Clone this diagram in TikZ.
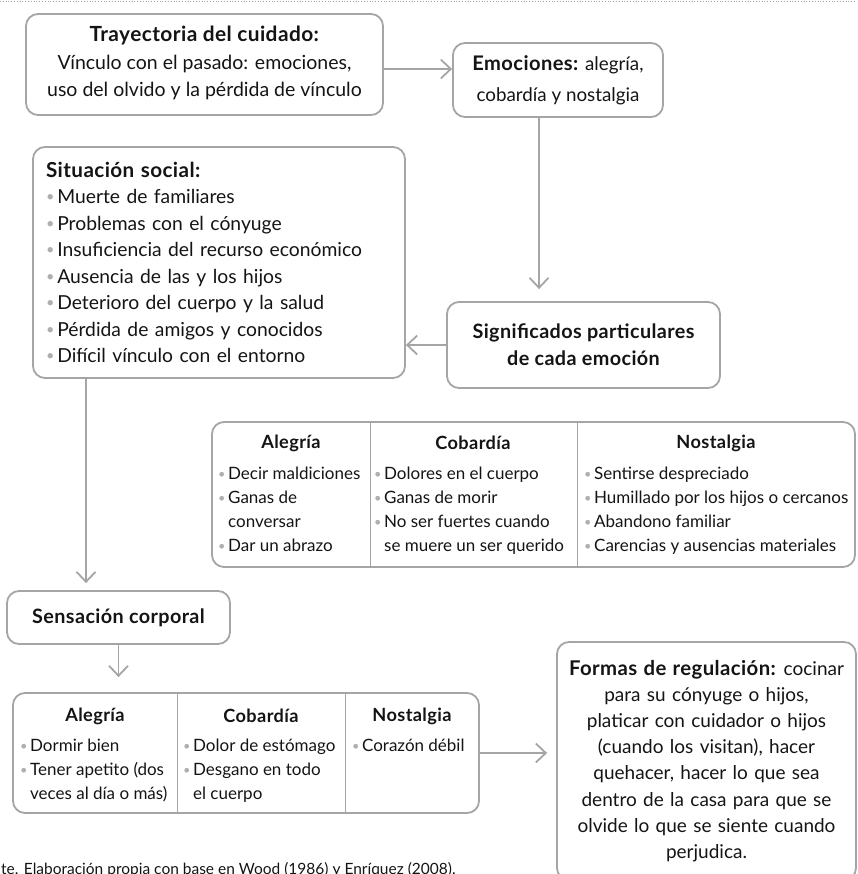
\documentclass[tikz,border=0pt]{standalone}
\usepackage{fontspec}
\setmainfont{Lato}[BoldFeatures={Scale=1.07,LetterSpace=2}]
\usetikzlibrary{arrows.meta}

\definecolor{linegray}{RGB}{165,165,165}
\definecolor{bulgray}{RGB}{175,175,175}
\definecolor{ink}{RGB}{20,20,20}

\newcommand\bul{\textcolor{bulgray}{\raisebox{.1em}{\scalebox{.75}{\textbullet}}}\hspace{.15em}}
\newcommand\ind{\hphantom{\bul}}
\newcommand\bigtxt{\fontsize{19.3}{27}\selectfont}
\newcommand\tabtxt{\fontsize{17}{24}\selectfont}

\tikzset{
  box/.style={draw=linegray, line width=1.8pt, rounded corners=12pt,
    inner sep=0pt, align=center, text=ink, font=\bigtxt},
  tabframe/.style={draw=linegray, line width=1.8pt, rounded corners=12pt, inner sep=0pt},
  divider/.style={draw=linegray, line width=1pt},
  colhead/.style={font=\tabtxt\bfseries, text=ink, inner sep=0pt},
  colitems/.style={font=\tabtxt, text=ink, align=left, anchor=north west, inner sep=0pt},
  arr/.style={draw=linegray, line width=1.8pt, -{Straight Barb[length=10pt,width=19pt]}}
}

\begin{document}
\begin{tikzpicture}[x=1pt,y=-1pt]
      \useasboundingbox (0,0) rectangle (857,874);
      \clip (0,0) rectangle (857,874);

      \draw[linegray, line width=0.8pt, dash pattern=on 0.8pt off 2pt] (0,1) -- (857,1);

      \node[box, minimum width=357pt, minimum height=101pt, font=\fontsize{19.5}{27.5}\selectfont]
            (tray) at (204.5,64.5)
            {\textbf{Trayectoria del cuidado:}\\Vínculo con el pasado: emociones,\\uso del olvido y la pérdida de vínculo\\[-22pt]\mbox{}};
      \node[box, minimum width=210pt, minimum height=74pt, font=\fontsize{18.8}{31}\selectfont]
            (emo) at (558,80)
            {\textbf{Emociones:} alegría,\\cobardía y nostalgia};
      \node[box, align=left, text width=346pt, inner xsep=13pt, minimum height=231pt,
            font=\fontsize{19.3}{26.5}\selectfont]
            (sit) at (219,262.5)
            {\textbf{Situación social:}\\
             \bul Muerte de familiares\\
             \bul Problemas con el cónyuge\\
             \bul Insuficiencia del recurso económico\\
             \bul Ausencia de las y los hijos\\
             \bul Deterioro del cuerpo y la salud\\
             \bul Pérdida de amigos y conocidos\\
             \bul Difícil vínculo con el entorno};
      \node[box, minimum width=273pt, minimum height=86pt, font=\fontsize{18.5}{27}\selectfont\bfseries]
            (sig) at (583.5,345)
            {Significados particulares\\de cada emoción};
      \node[box, minimum width=223pt, minimum height=53pt, font=\fontsize{18.5}{27}\selectfont\bfseries]
            (sens) at (118.5,617.5) {Sensación corporal};
      \node[box, text width=282pt, inner xsep=8.5pt, minimum height=238pt,
            font=\fontsize{19}{26.2}\selectfont]
            (form) at (706.5,761)
            {\textbf{Formas de regulación:}\hspace{-2pt} cocinar\\para su cónyuge o hijos,\\platicar con cuidador o hijos\\(cuando los visitan), hacer\\quehacer, hacer lo que sea\\dentro de la casa para que se\\olvide lo que se siente cuando\\perjudica.};

      \node[tabframe, minimum width=643pt, minimum height=145pt] (sigtab) at (533.5,494.5) {};
      \draw[divider] (370,422) -- (370,567);
      \draw[divider] (577,422) -- (577,567);
      \node[colhead] (sigA) at (291,443) {Alegría};
      \node[colhead] (sigC) at (473,443) {Cobardía};
      \node[colhead] (sigN) at (716,443) {Nostalgia};
      \node[colitems] (sigAi) at (218,467)
            {\bul Decir maldiciones\\\bul Ganas de\\\ind conversar\\\bul Dar un abrazo};
      \node[colitems] (sigCi) at (374,467)
            {\bul Dolores en el cuerpo\\\bul Ganas de morir\\\bul No ser fuertes cuando\\\ind se muere un ser querido};
      \node[colitems] (sigNi) at (584,467)
            {\bul Sentirse despreciado\\\bul Humillado por los hijos o cercanos\\\bul Abandono familiar\\\bul Carencias y ausencias materiales};

      \node[tabframe, minimum width=466pt, minimum height=120pt] (senstab) at (246,753) {};
      \draw[divider] (177,693) -- (177,813);
      \draw[divider] (345,693) -- (345,813);
      \node[colhead] (sensA) at (95,716) {Alegría};
      \node[colhead] (sensC) at (261,716) {Cobardía};
      \node[colhead] (sensN) at (412,716) {Nostalgia};
      \node[colitems] (sensAi) at (20,739)
            {\bul Dormir bien\\\bul Tener apetito (dos\\\ind veces al día o más)};
      \node[colitems] (sensCi) at (183,739)
            {\bul Dolor de estómago\\\bul Desgano en todo\\\ind el cuerpo};
      \node[colitems] (sensNi) at (352,739)
            {\bul Corazón débil};

      \draw[arr] ([yshift=-4.5pt]tray.east) -- ([yshift=-4.5pt]tray.east -| emo.west);
      \draw[arr, shorten >=12pt] ([xshift=-19pt]emo.south) -- ([xshift=-19pt]emo.south |- sig.north);
      \draw[arr] (sig.west) -- (sig.west -| sit.east);
      \draw[arr, shorten >=7pt] ([xshift=-133pt]sit.south) -- ([xshift=-133pt]sit.south |- sens.north);
      \draw[arr, shorten >=15pt] (sens.south) -- (sens.south |- senstab.north);
      \draw[arr, shorten >=9pt] (senstab.east) -- (senstab.east -| form.west);

      \node[anchor=base west, inner sep=0pt, font=\fontsize{15.5}{18}\selectfont, text=ink]
            (note) at (1,874) {te. Elaboración propia con base en Wood (1986) y Enríquez (2008).};
\end{tikzpicture}
\end{document}
